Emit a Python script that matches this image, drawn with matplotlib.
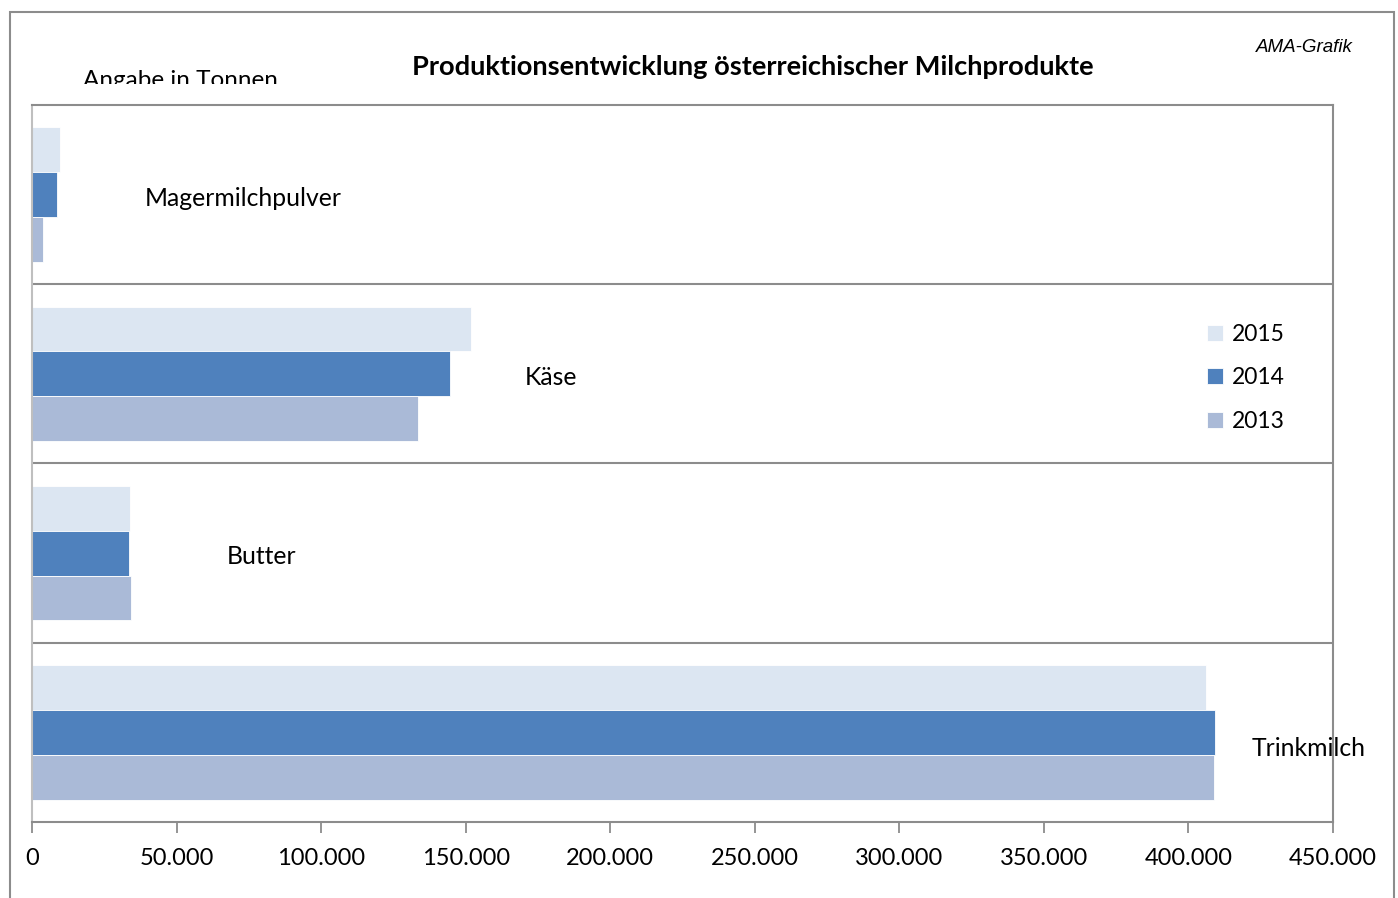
import matplotlib
matplotlib.use("Agg")
import matplotlib.pyplot as plt
from matplotlib.patches import Rectangle
import numpy as np

categories = ["Trinkmilch", "Butter", "Käse", "Magermilchpulver"]
years = ["2015", "2014", "2013"]
values_2015 = [406000, 34000, 152000, 9700]
values_2014 = [409200, 33500, 144600, 8700]
values_2013 = [408900, 34300, 133500, 3900]
colors = {"2015": "#DCE6F2", "2014": "#4F81BD", "2013": "#AABAD7"}
x_ticks = [0, 50000, 100000, 150000, 200000, 250000, 300000, 350000, 400000, 450000]
x_ticklabels = ["0", "50.000", "100.000", "150.000", "200.000", "250.000",
                "300.000", "350.000", "400.000", "450.000"]
label_x = [421700, 67500, 170500, 39000]
label_dy = [-0.09, -0.02, -0.02, -0.02]

FONT = "Lato"
W, H = 1398, 898
fig = plt.figure(figsize=(W / 100, H / 100), dpi=100)
fig.patch.set_facecolor("white")

# outer frame
fig.add_artist(Rectangle((10 / W, -0.05), (1394 - 10) / W, 1.05 - 12 / H,
                         transform=fig.transFigure, fill=False,
                         edgecolor="#8C8C8C", linewidth=1.5))

ax = fig.add_axes([32 / W, 1 - 822 / H, (1333 - 32) / W, (822 - 105) / H])
y = np.arange(len(categories))
h = 0.25
series = [("2015", values_2015, h), ("2014", values_2014, 0.0), ("2013", values_2013, -h)]
for name, vals, off in series:
    ax.barh(y + off, vals, height=h, color=colors[name], edgecolor="white",
            linewidth=0.6, label=name, zorder=2)

ax.set_xlim(0, 450000)
ax.set_ylim(-0.5, 3.5)
ax.set_yticks([])
ax.set_xticks(x_ticks)
ax.set_xticklabels(x_ticklabels, fontfamily=FONT, fontsize=17)
ax.tick_params(axis="x", direction="out", length=8, width=1.3, color="#8C8C8C", pad=11)
for sp in ["top", "right", "bottom"]:
    ax.spines[sp].set_color("#8C8C8C")
    ax.spines[sp].set_linewidth(1.5)
ax.spines["left"].set_color("#BFBFBF")
ax.spines["left"].set_linewidth(1.5)
for yy in [0.5, 1.5, 2.5]:
    ax.axhline(yy, color="#8C8C8C", linewidth=1.5, zorder=1)

for cat, lx, dy, yy in zip(categories, label_x, label_dy, y):
    ax.text(lx, yy + dy, cat, fontfamily=FONT, fontsize=17.8, va="center", ha="left",
            zorder=3, clip_on=False)

leg = ax.legend(loc="upper left", bbox_to_anchor=(1207 / W, 1 - 324 / H),
                bbox_transform=fig.transFigure, frameon=False,
                prop={"family": FONT, "size": 16.5}, handlelength=0.7, handleheight=0.7,
                handletextpad=0.4, labelspacing=0.98, borderpad=0, borderaxespad=0)

fig.text(753 / W, 1 - 67 / H, "Produktionsentwicklung österreichischer Milchprodukte",
         fontfamily=FONT, fontweight="bold", fontsize=19.6, ha="center", va="center")
fig.text(1353 / W, 1 - 47 / H, "AMA-Grafik", fontfamily="Liberation Sans",
         style="italic", fontsize=13.5, ha="right", va="center")
t = fig.text(83 / W, 1 - 87 / H, "Angabe in Tonnen", fontfamily=FONT, fontsize=17.5,
             ha="left", va="baseline")
clip = Rectangle((0, 1 - 84 / H), 0.5, 84 / H, transform=fig.transFigure)
t.set_clip_path(clip)

fig.savefig("out.png", dpi=100)
